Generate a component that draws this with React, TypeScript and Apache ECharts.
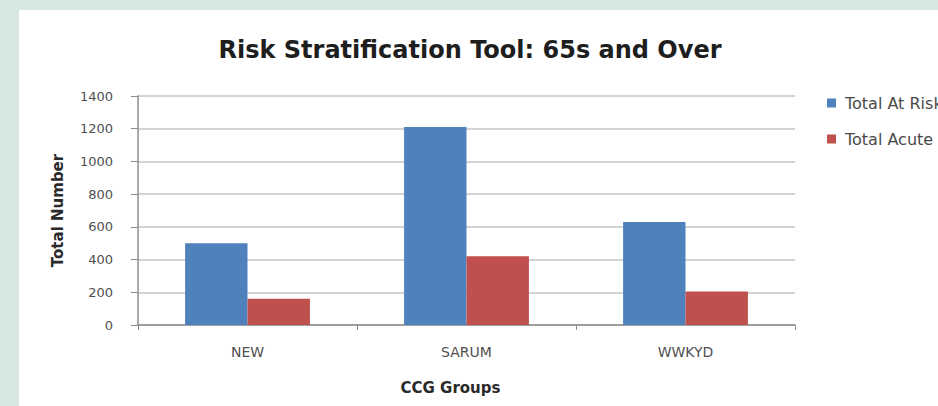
import React, { useEffect, useRef } from "react";
import * as echarts from "echarts";

const categories = ["NEW", "SARUM", "WWKYD"];
const totalAtRisk = [500, 1210, 630];
const totalAcute = [160, 420, 205];
const seriesNames = ["Total At Risk", "Total Acute Admissions"];
const titleText = "Risk Stratification Tool: 65s and Over";
const yAxisName = "Total Number";
const xAxisName = "CCG Groups";

const FONT = "DejaVu Sans";

export default function App() {
  const ref = useRef<HTMLDivElement>(null);
  useEffect(() => {
    document.body.style.margin = "0";
    const chart = echarts.init(ref.current!, null, { renderer: "svg" });
    chart.setOption({
      animation: false,
      backgroundColor: "#d6e6e3",
      graphic: [
        { type: "rect", z: -10, shape: { x: 19, y: 10, width: 938, height: 406 }, style: { fill: "#ffffff" } },
      ],
      title: {
        text: titleText,
        left: 465,
        textAlign: "center",
        top: 33,
        textStyle: { fontFamily: FONT, fontWeight: "bold", fontSize: 24, color: "#1e1e1e" },
      },
      legend: {
        orient: "vertical",
        left: 827,
        top: 95,
        padding: 0,
        itemWidth: 9,
        itemHeight: 9,
        itemGap: 20,
        icon: "rect",
        textStyle: { fontFamily: FONT, fontSize: 16, color: "#4a4a4a", padding: [0, 0, 0, 4] },
        data: seriesNames,
      },
      grid: { left: 138, right: 143, top: 96, bottom: 81 },
      xAxis: {
        type: "category",
        data: categories,
        name: xAxisName,
        nameLocation: "middle",
        nameGap: 55,
        nameTextStyle: { fontFamily: FONT, fontWeight: "bold", fontSize: 15, color: "#2a2a2a", padding: [0, 32, 0, 0] },
        axisLine: { lineStyle: { color: "#8c8c8c", width: 1.5 } },
        axisTick: { show: true, length: 5, lineStyle: { color: "#8c8c8c" } },
        axisLabel: { fontFamily: FONT, fontSize: 14, color: "#505050", margin: 20 },
      },
      yAxis: {
        type: "value",
        min: 0,
        max: 1400,
        interval: 200,
        name: yAxisName,
        nameLocation: "middle",
        nameGap: 73,
        nameTextStyle: { fontFamily: FONT, fontWeight: "bold", fontSize: 15, color: "#2a2a2a" },
        axisLine: { show: true, lineStyle: { color: "#8c8c8c", width: 1.5 } },
        axisTick: { show: true, length: 7, lineStyle: { color: "#8c8c8c" } },
        axisLabel: {
          fontFamily: FONT,
          fontSize: 13,
          color: "#505050",
          margin: 25,
          formatter: (v: number) => String(v),
        },
        splitLine: { lineStyle: { color: "#c4c4c4", width: 1.5 } },
      },
      series: [
        {
          name: seriesNames[0],
          type: "bar",
          data: totalAtRisk,
          itemStyle: { color: "#4f81bd" },
          barGap: "0%",
          barCategoryGap: "43%",
        },
        {
          name: seriesNames[1],
          type: "bar",
          data: totalAcute,
          itemStyle: { color: "#c0504d" },
          barGap: "0%",
          barCategoryGap: "43%",
        },
      ],
    });
    return () => chart.dispose();
  }, []);
  return <div ref={ref} style={{ width: 938, height: 406 }} />;
}
